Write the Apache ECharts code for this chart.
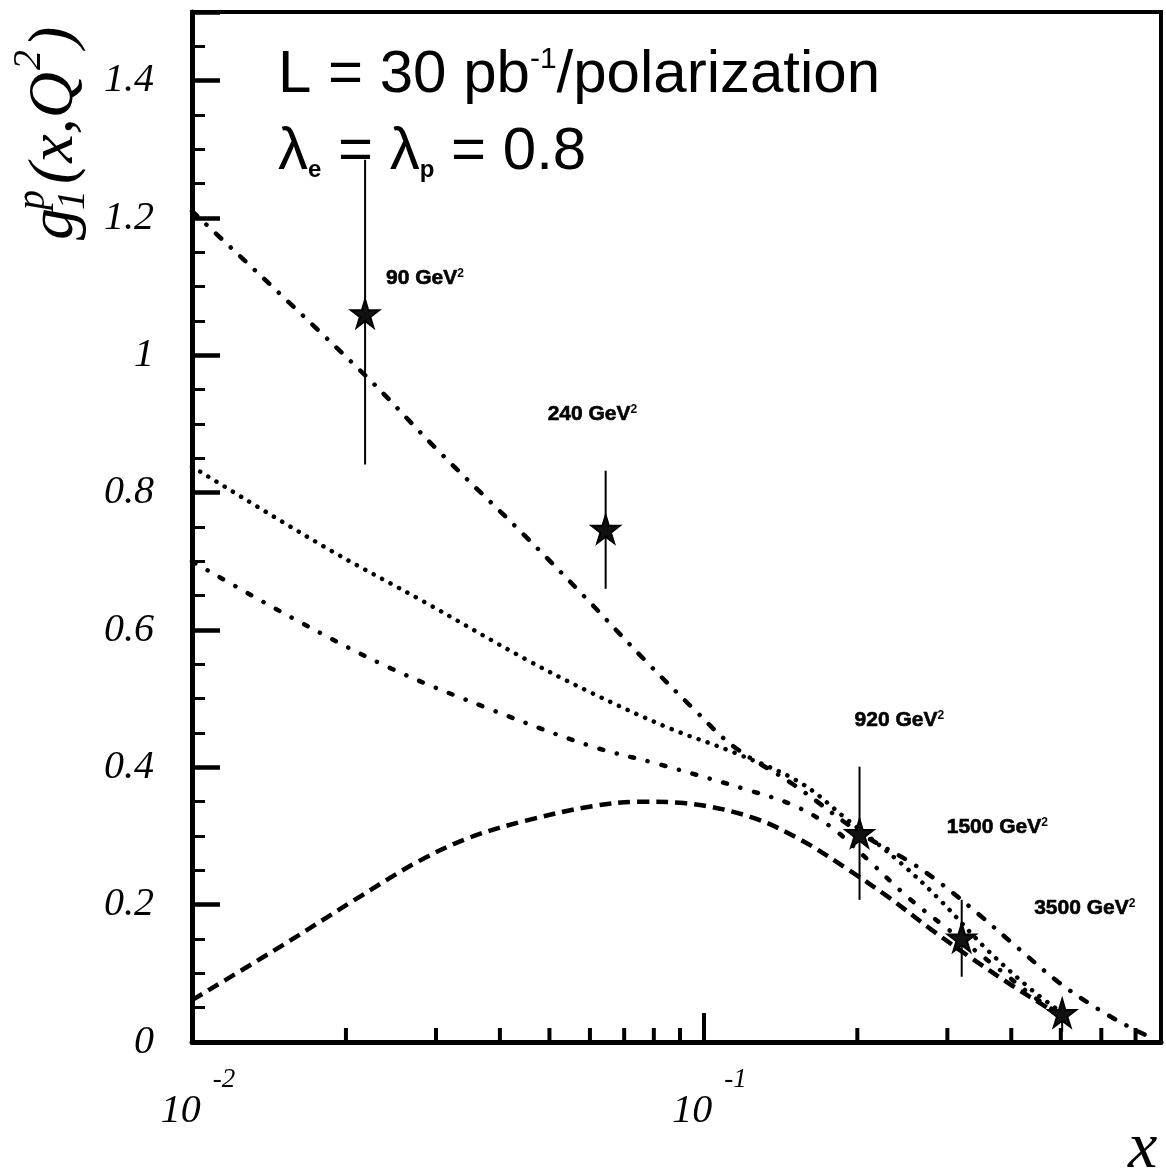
<!DOCTYPE html>
<html>
<head>
<meta charset="utf-8">
<script src="https://cdn.jsdelivr.net/npm/echarts@6/dist/echarts.min.js"></script>
<style>
  html, body { margin: 0; padding: 0; background: #fff; }
  #chart { width: 1166px; height: 1172px; }
</style>
</head>
<body>
<div id="chart"></div>
<script>
// curves (x on a log scale)
const curveAX = [0.01, 0.0218, 0.0303, 0.0448, 0.0583, 0.0764, 0.0957, 0.1143, 0.15, 0.202, 0.255, 0.29, 0.3467, 0.409, 0.497, 0.594, 0.68, 0.733];
const curveAY = [1.21, 0.971, 0.861, 0.737, 0.650, 0.558, 0.485, 0.431, 0.375, 0.305, 0.261, 0.232, 0.185, 0.139, 0.086, 0.047, 0.022, 0.010];

const curveBX = [0.01, 0.01816, 0.02844, 0.04478, 0.0602, 0.0851, 0.1144, 0.1545, 0.191, 0.242, 0.29, 0.358, 0.44, 0.504];
const curveBY = [0.838, 0.721, 0.641, 0.558, 0.509, 0.458, 0.422, 0.378, 0.324, 0.262, 0.207, 0.135, 0.075, 0.042];

const curveCX = [0.01, 0.01567, 0.0245, 0.0385, 0.0602, 0.0824, 0.1235, 0.1497, 0.177, 0.21, 0.25, 0.3, 0.38, 0.45, 0.51];
const curveCY = [0.70, 0.618, 0.544, 0.484, 0.431, 0.404, 0.366, 0.345, 0.314, 0.265, 0.212, 0.165, 0.105, 0.062, 0.036];

const curveDX = [0.01, 0.0152, 0.0205, 0.0277, 0.035, 0.0448, 0.0602, 0.0753, 0.0915, 0.1235, 0.1545, 0.192, 0.229, 0.28, 0.33, 0.4, 0.47, 0.51];
const curveDY = [0.061, 0.143, 0.204, 0.263, 0.298, 0.322, 0.343, 0.350, 0.348, 0.328, 0.295, 0.251, 0.212, 0.163, 0.125, 0.083, 0.05, 0.032];

// measured points with error bars
const pointQ2 = ['90', '240', '920', '1500', '3500'];
const pointX = [0.0218, 0.0644, 0.202, 0.32, 0.503];
const pointY = [1.061, 0.747, 0.304, 0.152, 0.042];
const errLow = [0.841, 0.66, 0.207, 0.095, 0.015];
const errHigh = [1.285, 0.832, 0.401, 0.207, 0.058];

// small ticks between decades
const xMinorTicks = [0.02, 0.03, 0.04, 0.05, 0.06, 0.07, 0.08, 0.09, 0.2, 0.3, 0.4, 0.5, 0.6, 0.7];

const serif = '"Liberation Serif", "Times New Roman", serif';
const sans = '"Liberation Sans", Arial, sans-serif';

// label offsets relative to each star (px)
const labelOffsets = [[21, -35], [-58, -115], [-5, -113], [-15, -110], [-28, -105]];

const zip = (xs, ys) => xs.map((x, i) => [x, ys[i]]);

function curve(xs, ys, dash, cap) {
  return {
    type: 'line',
    data: zip(xs, ys),
    smooth: 0.35,
    showSymbol: false,
    symbol: 'none',
    lineStyle: { color: '#000', width: 4.5, type: dash, cap: cap || 'butt' },
    z: 3
  };
}

const starPath = 'path://M50,0 L61,35 L98,35 L68,57 L79,91 L50,70 L21,91 L32,57 L2,35 L39,35 Z';

const chart = echarts.init(document.getElementById('chart'));

chart.setOption({
  animation: false,
  backgroundColor: '#fff',
  grid: {
    left: 192, right: 5, top: 12, bottom: 130,
    containLabel: false,
    show: true, borderColor: '#000', borderWidth: 4
  },
  xAxis: {
    type: 'log',
    logBase: 10,
    min: 0.01,
    max: 0.785,
    axisLine: { show: true, lineStyle: { color: '#000', width: 5 } },
    axisTick: { show: true, inside: true, length: 29, lineStyle: { color: '#000', width: 4 } },
    splitLine: { show: false },
    axisLabel: {
      margin: 24,
      color: '#000',
      formatter: function (v) {
        const e = Math.log10(v);
        if (Math.abs(e - Math.round(e)) > 1e-6) { return ''; }
        return '{b|10}{e|' + Math.round(e) + '}';
      },
      rich: {
        b: { fontFamily: serif, fontStyle: 'italic', fontSize: 40, color: '#000', verticalAlign: 'bottom', padding: [0, 0, 0, 12] },
        e: { fontFamily: serif, fontStyle: 'italic', fontSize: 27, color: '#000', verticalAlign: 'top', padding: [0, 0, 38, 12] }
      }
    }
  },
  yAxis: [
    {
      type: 'value',
      min: 0,
      max: 1.5,
      interval: 0.2,
      axisLine: { show: true, lineStyle: { color: '#000', width: 5 } },
      axisTick: { show: true, inside: true, length: 28, lineStyle: { color: '#000', width: 4.5 } },
      splitLine: { show: false },
      axisLabel: {
        margin: 38,
        color: '#000',
        fontFamily: serif,
        fontStyle: 'italic',
        fontSize: 40,
        formatter: function (v) {
          if (v > 1.45) { return ''; }
          return String(+v.toFixed(1));
        }
      }
    },
    {
      type: 'value',
      min: 0,
      max: 1.5,
      interval: 0.05,
      position: 'left',
      axisLine: { show: false },
      axisTick: { show: true, inside: true, length: 13, lineStyle: { color: '#000', width: 3 } },
      axisLabel: { show: false },
      splitLine: { show: false }
    }
  ],
  series: [
    curve(curveAX, curveAY, [7, 13, 0.1, 13], 'round'),
    curve(curveBX, curveBY, [0.1, 9.5], 'round'),
    curve(curveCX, curveCY, [4, 14, 0.1, 14], 'round'),
    curve(curveDX, curveDY, [12, 7], 'butt'),
    {
      // minor ticks of the log axis
      type: 'custom',
      silent: true,
      clip: false,
      data: xMinorTicks.map(v => [v, 0]),
      encode: { x: 0, y: 1 },
      renderItem: function (params, api) {
        const p = api.coord([api.value(0), 0]);
        return {
          type: 'line',
          shape: { x1: p[0], y1: p[1], x2: p[0], y2: p[1] - 14 },
          style: { stroke: '#000', lineWidth: 4 }
        };
      },
      z: 5
    },
    {
      type: 'custom',
      silent: true,
      data: pointX.map((x, i) => [x, errLow[i], errHigh[i]]),
      encode: { x: 0, y: [1, 2] },
      renderItem: function (params, api) {
        const lo = api.coord([api.value(0), api.value(1)]);
        const hi = api.coord([api.value(0), api.value(2)]);
        return {
          type: 'line',
          shape: { x1: lo[0], y1: lo[1], x2: hi[0], y2: hi[1] },
          style: { stroke: '#000', lineWidth: 2 }
        };
      },
      z: 4
    },
    {
      type: 'scatter',
      symbol: starPath,
      symbolSize: 28,
      itemStyle: { color: '#111', borderColor: '#000', borderWidth: 2, opacity: 1 },
      data: pointX.map((x, i) => ({
        value: [x, pointY[i]],
        label: { offset: labelOffsets[i] }
      })),
      label: {
        show: true,
        position: 'inside',
        align: 'left',
        verticalAlign: 'middle',
        color: '#000',
        formatter: function (p) {
          return '{a|' + pointQ2[p.dataIndex] + ' GeV}{s|2}';
        },
        rich: {
          a: { fontFamily: sans, fontWeight: 'bold', fontSize: 21, color: '#000', textBorderColor: '#000', textBorderWidth: 0.6 },
          s: { fontFamily: sans, fontWeight: 'bold', fontSize: 12, color: '#000', verticalAlign: 'top' }
        }
      },
      z: 6
    }
  ],
  graphic: [
    {
      type: 'text',
      left: 278,
      top: 45,
      style: {
        text: '{m|L = 30 pb}{s|-1}{m|/polarization}',
        rich: {
          m: { fontFamily: sans, fontSize: 60, color: '#000' },
          s: { fontFamily: sans, fontSize: 30, color: '#000', verticalAlign: 'top' }
        }
      }
    },
    {
      type: 'text',
      left: 278,
      top: 122,
      style: {
        text: '{m|\u03bb}{b|e}{m| = \u03bb}{b|p}{m| = 0.8}',
        rich: {
          m: { fontFamily: sans, fontSize: 60, color: '#000' },
          b: { fontFamily: sans, fontWeight: 'bold', fontSize: 24, color: '#000', verticalAlign: 'bottom' }
        }
      }
    },
    {
      // y axis title, rotated to read upwards
      type: 'group',
      x: 55,
      y: 240,
      rotation: Math.PI / 2,
      children: [
        { type: 'text', x: 0, y: 0, style: { text: 'g', font: 'italic 64px ' + serif, fill: '#000', verticalAlign: 'middle' } },
        { type: 'text', x: 30, y: -22, style: { text: 'p', font: 'italic 40px ' + serif, fill: '#000', verticalAlign: 'middle' } },
        { type: 'text', x: 30, y: 18, style: { text: '1', font: 'italic 40px ' + serif, fill: '#000', verticalAlign: 'middle' } },
        { type: 'text', x: 56, y: 0, style: { text: '(x,Q', font: 'italic 64px ' + serif, fill: '#000', verticalAlign: 'middle' } },
        { type: 'text', x: 170, y: -26, style: { text: '2', font: 'italic 40px ' + serif, fill: '#000', verticalAlign: 'middle' } },
        { type: 'text', x: 192, y: 0, style: { text: ')', font: 'italic 64px ' + serif, fill: '#000', verticalAlign: 'middle' } }
      ]
    },
    {
      type: 'text',
      x: 1128,
      y: 1150,
      style: { text: 'x', font: 'italic 66px ' + serif, fill: '#000', verticalAlign: 'middle' }
    }
  ]
});
</script>
</body>
</html>
